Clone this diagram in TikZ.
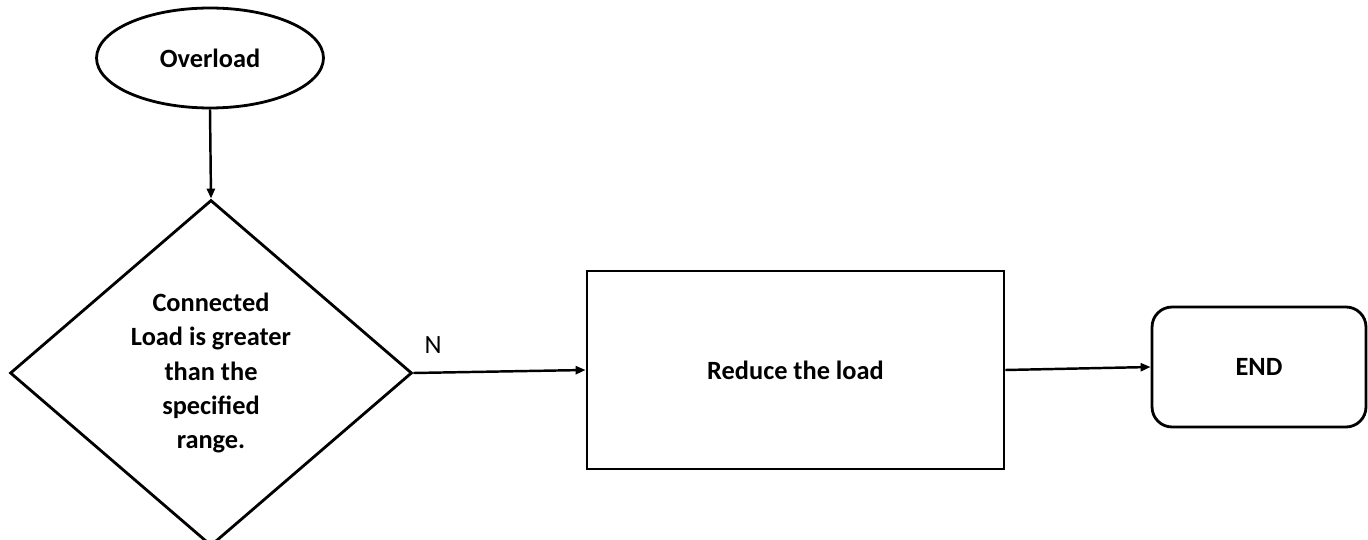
\documentclass[tikz,border=0pt]{standalone}
\usepackage{fontspec}
\setmainfont{Carlito}
\usepackage{tikz}
\usetikzlibrary{arrows.meta,shapes.geometric,positioning}

\begin{document}
\begin{tikzpicture}[
    x=0.02cm,y=-0.02cm,
    every node/.style={font=\fontsize{15}{19.4}\selectfont\bfseries},
    base/.style={draw=black,line width=1.6pt,align=center,inner sep=0pt},
    terminal/.style={base,ellipse,minimum width=4.54cm,minimum height=2cm},
    decision/.style={base,diamond,minimum width=8.04cm,minimum height=6.92cm},
    process/.style={base,rectangle,minimum width=8.34cm,minimum height=3.96cm},
    stopbox/.style={base,rectangle,rounded corners=0.4cm,minimum width=4.28cm,minimum height=2.4cm},
    flow/.style={-{Triangle[length=2mm,width=1.6mm]},line width=1.4pt,black}
  ]
    \useasboundingbox (0,0) rectangle (1368,540);
    \node[terminal] (overload) at (210,58) {Overload};
    \node[decision] (check) at (211,373) {Connected\\Load is greater\\than the\\specified\\range.};
    \node[process] (reduce) at (795.5,370) {Reduce the load};
    \node[stopbox] (end) at (1259,367) {END};
    \node[font=\fontsize{15}{18}\selectfont] (no) at (433,345) {N};
    \draw[flow] (overload.south) -- (check.north);
    \draw[flow] (check.east) -- (reduce.west);
    \draw[flow] (reduce.east) -- (end.west);
  \end{tikzpicture}
\end{document}
